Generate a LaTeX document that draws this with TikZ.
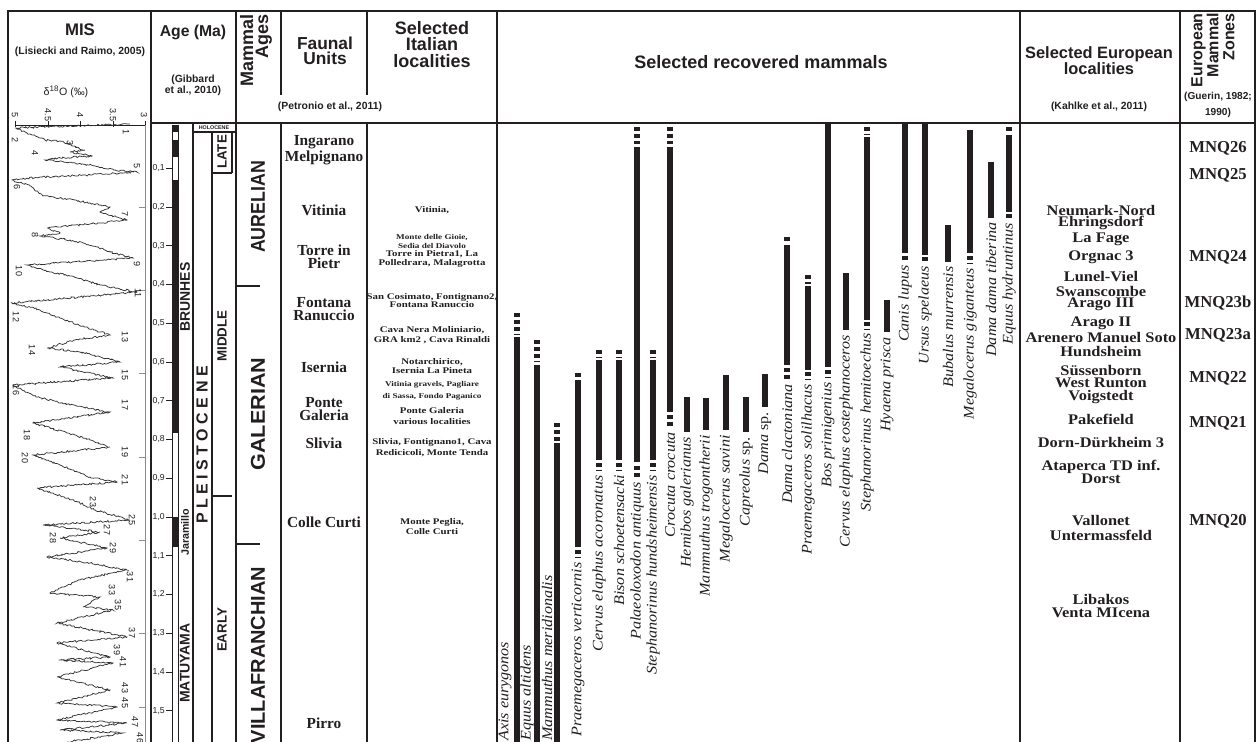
\documentclass[tikz,border=0pt]{standalone}
\usepackage{fontspec}
\usepackage{graphicx}
\setmainfont{Liberation Serif}
\setsansfont{Liberation Sans}
\newfontfamily\spfont[FakeStretch=1.1]{Liberation Serif}
\newfontfamily\locfont[FakeStretch=1.25]{Liberation Serif}
\newfontfamily\eufont[FakeStretch=1.12]{Liberation Serif}
\usetikzlibrary{decorations.pathmorphing}
\definecolor{ink}{RGB}{35,31,32}
\tikzset{
  every node/.style={inner sep=0pt, text=ink},
  frame/.style={line width=1.9pt, draw=ink},
  rule/.style={line width=0.9pt, draw=ink},
  hair/.style={line width=0.5pt, draw=ink},
  hdr/.style={font=\fontsize{13.5}{11.3}\selectfont\sffamily\bfseries, align=center},
  cite/.style={font=\fontsize{7.8}{8.3}\selectfont\sffamily\bfseries, align=center},
  era/.style={font=\fontsize{15}{16}\selectfont\sffamily\bfseries, rotate=90},
  epoch/.style={font=\fontsize{10}{11}\selectfont\sffamily\bfseries, rotate=90},
  agetick/.style={font=\fontsize{6.5}{7}\selectfont\sffamily, anchor=east},
  misnum/.style={font=\fontsize{6.8}{7}\selectfont\sffamily, rotate=-90},
  fau/.style={font=\fontsize{11.5}{9.8}\selectfont\rmfamily\bfseries, align=center},
  loc/.style={font=\fontsize{6.5}{7}\selectfont\locfont\bfseries},
  locs/.style={font=\fontsize{5.5}{6}\selectfont\locfont\bfseries},
  eu/.style={font=\fontsize{11}{11}\selectfont\eufont\bfseries},
  mnq/.style={font=\fontsize{12.5}{13}\selectfont\rmfamily\bfseries},
  sp/.style={font=\fontsize{11}{12}\selectfont\spfont\itshape, rotate=90},
  bar/.style={line width=4.1pt, draw=ink},
  dots/.style={line width=4.1pt, draw=ink, dash pattern=on 3pt off 2.2pt},
  curve/.style={line width=0.55pt, draw=black!80, decorate, decoration={random steps, segment length=1.2pt, amplitude=0.7pt}},
}
\begin{document}
\begin{tikzpicture}[x=0.75pt,y=-0.75pt]
\useasboundingbox (0,0) rectangle (1257,742);
\fill[white] (0,0) rectangle (1257,742);

% ---------- frame ----------
\draw[frame] (8,742) -- (8,11) -- (1255,11) -- (1255,742);
\draw[frame] (151,123) -- (1255,123);
\foreach \xx in {151,236,497,1020,1180} \draw[frame] (\xx,11) -- (\xx,742);
\foreach \xx in {281,367} {\draw[frame] (\xx,11) -- (\xx,95); \draw[frame] (\xx,123) -- (\xx,742);}

% ---------- headers ----------
\node[hdr, font=\fontsize{12.6}{13}\selectfont\sffamily\bfseries] (hmis) at (80,30) {MIS};
\node[cite] (hmisc) at (80,52) {(Lisiecki and Raimo, 2005)};
\node[font=\fontsize{8}{9}\selectfont\sffamily] (hd18) at (66,92) {δ\textsuperscript{18}O (‰)};
\node[hdr, font=\fontsize{11.8}{13}\selectfont\sffamily\bfseries] (hage) at (193,32) {Age (Ma)};
\node[cite] (hgib1) at (193,80) {(Gibbard};
\node[cite] (hgib2) at (193,91) {et al., 2010)};
\node[hdr, rotate=90, anchor=east, align=right] (hmam) at (256,14) {Mammal\\Ages};
\node[hdr, font=\fontsize{13}{13}\selectfont\sffamily\bfseries] (hfau1) at (325,43) {Faunal};
\node[hdr, font=\fontsize{13}{13}\selectfont\sffamily\bfseries] (hfau2) at (325,58) {Units};
\node[hdr] (hita1) at (432,28) {Selected};
\node[hdr] (hita2) at (432,44) {Italian};
\node[hdr] (hita3) at (432,61) {localities};
\node[cite] (hpet) at (330,107) {(Petronio et al., 2011)};
\node[hdr] (hrec) at (761,62) {Selected recovered mammals};
\node[hdr, font=\fontsize{12.3}{12}\selectfont\sffamily\bfseries] (heur1) at (1099,54) {Selected European};
\node[hdr, font=\fontsize{12.3}{12}\selectfont\sffamily\bfseries] (heur2) at (1099,69) {localities};
\node[cite] (hkah) at (1099,107) {(Kahlke et al., 2011)};
\node[hdr, font=\fontsize{12}{12}\selectfont\sffamily\bfseries, rotate=90, anchor=east, align=right] (hemz) at (1213,13) {European\\Mammal\\Zones};
\node[cite, font=\fontsize{7.6}{8}\selectfont\sffamily\bfseries] (hgue1) at (1218,97) {(Guerin, 1982;};
\node[cite, font=\fontsize{7.6}{8}\selectfont\sffamily\bfseries] (hgue2) at (1218,113) {1990)};

% ---------- MIS plot ----------
\draw[hair] (15,125) -- (145,125);
\foreach \xx in {15,48,80,113,145} \draw[hair] (\xx,121) -- (\xx,127);
\draw[line width=0.6pt, draw=black!45] (145,125) -- (145,742);
\foreach \yy in {207,290,373,457,540,633,707} \draw[line width=0.6pt, draw=black!45] (139,\yy) -- (145,\yy);
\node[misnum] (ax1) at (15,115) {5};
\node[misnum] (ax2) at (48,115) {4.5};
\node[misnum] (ax3) at (80,115) {4};
\node[misnum] (ax4) at (113,115) {3.5};
\node[misnum] (ax5) at (144,115) {3};
\pgfmathsetseed{11}
\draw[curve] plot coordinates {(130,124) (15,128) (30,134) (45,140) (60,141) (72,146) (85,150) (70,152) (92,156) (60,158) (45,160) (75,163) (95,166) (115,170) (137,172) (90,175) (40,177) (12,180) (30,186) (43,196) (60,198) (90,203) (110,207) (100,212) (127,220) (90,224) (47,228) (60,233) (40,236) (70,240) (97,247) (110,252) (133,258) (27,265) (50,272) (70,276) (100,285) (137,292) (80,297) (12,303) (40,310) (60,318) (85,327) (110,335) (75,340) (47,348) (80,352) (120,362) (60,367) (113,378) (13,385) (37,397) (70,405) (110,412) (33,423) (67,433) (90,440) (110,447) (33,455) (60,465) (90,477) (117,482) (37,488) (78,502) (95,510) (130,520) (43,525) (100,532) (60,538) (107,548) (47,557) (90,563) (127,570) (80,580) (50,593) (100,597) (83,607) (113,610) (57,623) (127,637) (57,643) (110,657) (60,660) (113,663) (57,677) (110,690) (57,703) (117,707) (57,720) (127,723) (60,730) (123,733) (67,742)};
\foreach \xx/\yy/\n [count=\i] in {126/132/1,15/140/2,70/143/3,35/153/4,137/166/5,17/187/6,125/214/7,35/235/8,137/264/9,19/271/10,138/293/11,16/317/12,125/337/13,32/350/14,125/375/15,16/390/16,125/405/17,27/435/18,125/452/19,25/458/20,125/480/21,93/502/23,132/520/25,107/530/27,53/538/28,113/548/29,130/577/31,112/590/33,118/605/35,132/633/37,117/650/39,123/662/41,125/688/43,125/703/45,135/722/47,140/738/46}
  \node[misnum] (mis\i) at (\xx,\yy) {\n};

% ---------- Age column ----------
\foreach \t in {1,...,15} {
  \pgfmathsetmacro\yy{129.5+38.75*\t}
  \pgfmathtruncatemacro\ta{\t/10}
  \pgfmathtruncatemacro\tb{mod(\t,10)}
  \draw[hair] (166,\yy) -- (172,\yy);
  \node[agetick] (tk\t) at (165,\yy) {\ta,\tb};
}
\draw[line width=0.5pt, draw=ink] (172,125) rectangle (178,742);
\fill[ink] (172,125) rectangle (178,132);
\fill[ink] (172,140) rectangle (178,157);
\fill[ink] (172,180) rectangle (178,433);
\fill[ink] (172,517) rectangle (178,547);
\node[epoch, font=\fontsize{10.5}{11}\selectfont\sffamily\bfseries] (brun) at (185,297) {BRUNHES};
\node[epoch, font=\fontsize{8}{9}\selectfont\sffamily\bfseries] (jara) at (185,532) {Jaramillo};
\node[epoch, font=\fontsize{10.5}{11}\selectfont\sffamily\bfseries] (matu) at (185,663) {MATUYAMA};
\draw[rule, line width=1.1pt] (193,123) -- (193,742);
\draw[rule] (193,132) -- (236,132);
\node[font=\fontsize{4}{4}\selectfont\sffamily\bfseries] (holo) at (214,128) {HOLOCENE};
\draw[rule] (212,132) -- (212,742);
\draw[rule] (232,132) -- (232,173);
\draw[rule] (212,173) -- (232,173);
\draw[rule] (212,496) -- (232,496);
\node[era, font=\fontsize{12}{12}\selectfont\sffamily\bfseries] (plei) at (202,445) {P L E I S T O C E N E};
\node[epoch] (late) at (222,152) {LATE};
\node[epoch] (midd) at (222,336) {MIDDLE};
\node[epoch] (earl) at (222,630) {EARLY};

% ---------- Mammal ages ----------
\node[era] (aur) at (258,207) {\scalebox{0.89}[1]{AURELIAN}};
\node[era] (gal) at (258,414) {\scalebox{1.08}[1]{GALERIAN}};
\node[era] (vil) at (258,655) {VILLAFRANCHIAN};
\draw[rule] (236,286) -- (260,286);
\draw[rule] (236,544) -- (260,544);

% ---------- Faunal units ----------
\node[fau] (fu1) at (324,150) {Ingarano\\Melpignano};
\node[fau] (fu2) at (324,210) {Vitinia};
\node[fau] (fu3) at (324,256.5) {Torre in\\Pietr};
\node[fau] (fu4) at (324,309) {Fontana\\Ranuccio};
\node[fau] (fu5) at (324,367) {Isernia};
\node[fau] (fu6) at (324,409) {Ponte\\Galeria};
\node[fau] (fu7) at (324,443) {Slivia};
\node[fau] (fu8) at (324,522) {Colle Curti};
\node[fau] (fu9) at (324,723) {Pirro};

% ---------- Italian localities ----------
\foreach \yy/\st/\tx [count=\i] in {
  210/loc/{Vitinia,},
  238/locs/{Monte delle Gioie,},
  246/locs/{Sedia del Diavolo},
  254/loc/{Torre in Pietra1, La},
  263/loc/{Polledrara, Malagrotta},
  297/loc/{San Cosimato, Fontignano2,},
  305/loc/{Fontana Ranuccio},
  330/loc/{Cava Nera Moliniario,},
  340/loc/{GRA km2 , Cava Rinaldi},
  362/loc/{Notarchirico,},
  371/loc/{Isernia La Pineta},
  385/locs/{Vitinia gravels, Pagliare},
  397/locs/{di Sassa, Fondo Paganico},
  411/loc/{Ponte Galeria},
  422/loc/{various localities},
  442/loc/{Slivia, Fontignano1, Cava},
  453/loc/{Redicicoli, Monte Tenda},
  522/loc/{Monte Peglia,},
  532/loc/{Colle Curti}}
  \node[\st] (il\i) at (432,\yy) {\tx};

% ---------- Mammal ranges ----------
% Axis eurygonos
\draw[dots] (517,313) -- (517,335); \draw[bar] (517,337) -- (517,742);
\node[sp, anchor=west] (s1) at (505,741) {Axis eurygonos};
% Equus altidens
\draw[dots] (537,340) -- (537,362); \draw[bar] (537,365) -- (537,742);
\node[sp, anchor=west] (s2) at (527,741) {Equus altidens};
% Mammuthus meridionalis
\draw[dots] (557,423) -- (557,441); \draw[bar] (557,443) -- (557,742);
\node[sp, anchor=west] (s3) at (547,741) {Mammuthus meridionalis};
% Praemegaceros verticornis
\draw[dots] (578,373) -- (578,378); \draw[bar] (578,380) -- (578,547); \draw[dots] (578,550) -- (578,558);
\node[sp, anchor=east] (s4) at (578,562) {Praemegaceros verticornis};
% Cervus elaphus acoronatus
\draw[dots] (599,350) -- (599,358); \draw[bar] (599,360) -- (599,460); \draw[dots] (599,463) -- (599,471);
\node[sp, anchor=east] (s5) at (599,475) {Cervus elaphus acoronatus};
% Bison schoetensacki
\draw[dots] (619,350) -- (619,358); \draw[bar] (619,360) -- (619,460); \draw[dots] (619,463) -- (619,471);
\node[sp, anchor=east] (s6) at (619,475) {Bison schoetensacki};
% Palaeoloxodon antiquus
\draw[dots] (637,127) -- (637,144); \draw[bar] (637,147) -- (637,462); \draw[dots] (637,466) -- (637,478);
\node[sp, anchor=east] (s7) at (637,482) {Palaeoloxodon antiquus};
% Stephanorinus hundsheimensis
\draw[dots] (653,350) -- (653,358); \draw[bar] (653,360) -- (653,460); \draw[dots] (653,463) -- (653,471);
\node[sp, anchor=east] (s8) at (653,475) {Stephanorinus hundsheimensis};
% Crocuta crocuta
\draw[dots] (670,127) -- (670,144); \draw[bar] (670,147) -- (670,412); \draw[dots] (670,415) -- (670,428);
\node[sp, anchor=east] (s9) at (670,432) {Crocuta crocuta};
% Hemibos galerianus
\draw[bar] (687,397) -- (687,432);
\node[sp, anchor=east] (s10) at (687,437) {Hemibos galerianus};
% Mammuthus trogontherii
\draw[bar] (706,398) -- (706,430);
\node[sp, anchor=east] (s11) at (706,435) {Mammuthus trogontherii};
% Megalocerus savini
\draw[bar] (726,375) -- (726,430);
\node[sp, anchor=east] (s12) at (726,435) {Megalocerus savini};
% Capreolus sp.
\draw[bar] (746,397) -- (746,432);
\node[sp, anchor=east] (s13) at (746,437) {Capreolus {\upshape sp.}};
% Dama sp.
\draw[bar] (765,374) -- (765,407);
\node[sp, anchor=east] (s14) at (765,412) {Dama {\upshape sp.}};
% Dama clactoniana
\draw[dots] (787,237) -- (787,243); \draw[bar] (787,245) -- (787,365); \draw[dots] (787,368) -- (787,380);
\node[sp, anchor=east] (s15) at (787,384) {Dama clactoniana};
% Praemegaceros solilhacus
\draw[dots] (808,275) -- (808,284); \draw[bar] (808,286) -- (808,370); \draw[dots] (808,372) -- (808,380);
\node[sp, anchor=east] (s16) at (808,384) {Praemegaceros solilhacus};
% Bos primigenius
\draw[bar] (828,124) -- (828,367); \draw[dots] (828,370) -- (828,378);
\node[sp, anchor=east] (s17) at (828,382) {Bos primigenius};
% Cervus elaphus eostephanoceros
\draw[bar] (846,273) -- (846,330);
\node[sp, anchor=east] (s18) at (846,335) {Cervus elaphus eostephanoceros};
% Stephanorinus hemitoechus
\draw[dots] (867,127) -- (867,135); \draw[bar] (867,137) -- (867,320); \draw[dots] (867,322) -- (867,329);
\node[sp, anchor=east] (s19) at (867,333) {Stephanorinus hemitoechus};
% Hyaena prisca
\draw[bar] (887,300) -- (887,332);
\node[sp, anchor=east] (s20) at (887,337) {Hyaena prisca};
% Canis lupus
\draw[bar] (905,124) -- (905,253); \draw[dots] (905,256) -- (905,262);
\node[sp, anchor=east] (s21) at (905,265) {Canis lupus};
% Ursus spelaeus
\draw[bar] (925,124) -- (925,255); \draw[dots] (925,257) -- (925,262);
\node[sp, anchor=east] (s22) at (925,266) {Ursus spelaeus};
% Bubalus murrensis
\draw[bar] (948,225) -- (948,262);
\node[sp, anchor=east] (s23) at (948,266) {Bubalus murrensis};
% Megalocerus giganteus
\draw[bar] (970,130) -- (970,253); \draw[dots] (970,256) -- (970,264);
\node[sp, anchor=east] (s24) at (970,268) {Megalocerus giganteus};
% Dama dama tiberina
\draw[bar] (991,162) -- (991,218);
\node[sp, anchor=east] (s25) at (991,222) {Dama dama tiberina};
% Equus hydruntinus
\draw[dots] (1009,127) -- (1009,132); \draw[bar] (1009,135) -- (1009,212); \draw[dots] (1009,214) -- (1009,219);
\node[sp, anchor=east] (s26) at (1009,223) {Equus hydruntinus};

% ---------- European localities ----------
\foreach \yy/\tx [count=\i] in {
  210/{Neumark-Nord}, 223/{Ehringsdorf}, 239/{La Fage}, 257/{Orgnac 3},
  277/{Lunel-Viel}, 291/{Swanscombe}, 304/{Arago III}, 323/{Arago II},
  337/{Arenero Manuel Soto}, 351/{Hundsheim}, 370/{Süssenborn}, 383/{West Runton},
  397/{Voigstedt}, 419/{Pakefield}, 442/{Dorn-Dürkheim 3}, 467/{Ataperca TD inf.},
  479/{Dorst}, 521/{Vallonet}, 535/{Untermassfeld}, 599/{Libakos}, 613/{Venta MIcena}}
  \node[eu] (eu\i) at (1101,\yy) {\tx};

% ---------- MNQ zones ----------
\foreach \yy/\tx [count=\i] in {148/MNQ26, 175/MNQ25, 257/MNQ24, 303/MNQ23b, 335/MNQ23a, 378/MNQ22, 423/MNQ21, 521/MNQ20}
  \node[mnq] (mnq\i) at (1218,\yy) {\tx};
\end{tikzpicture}
\end{document}
